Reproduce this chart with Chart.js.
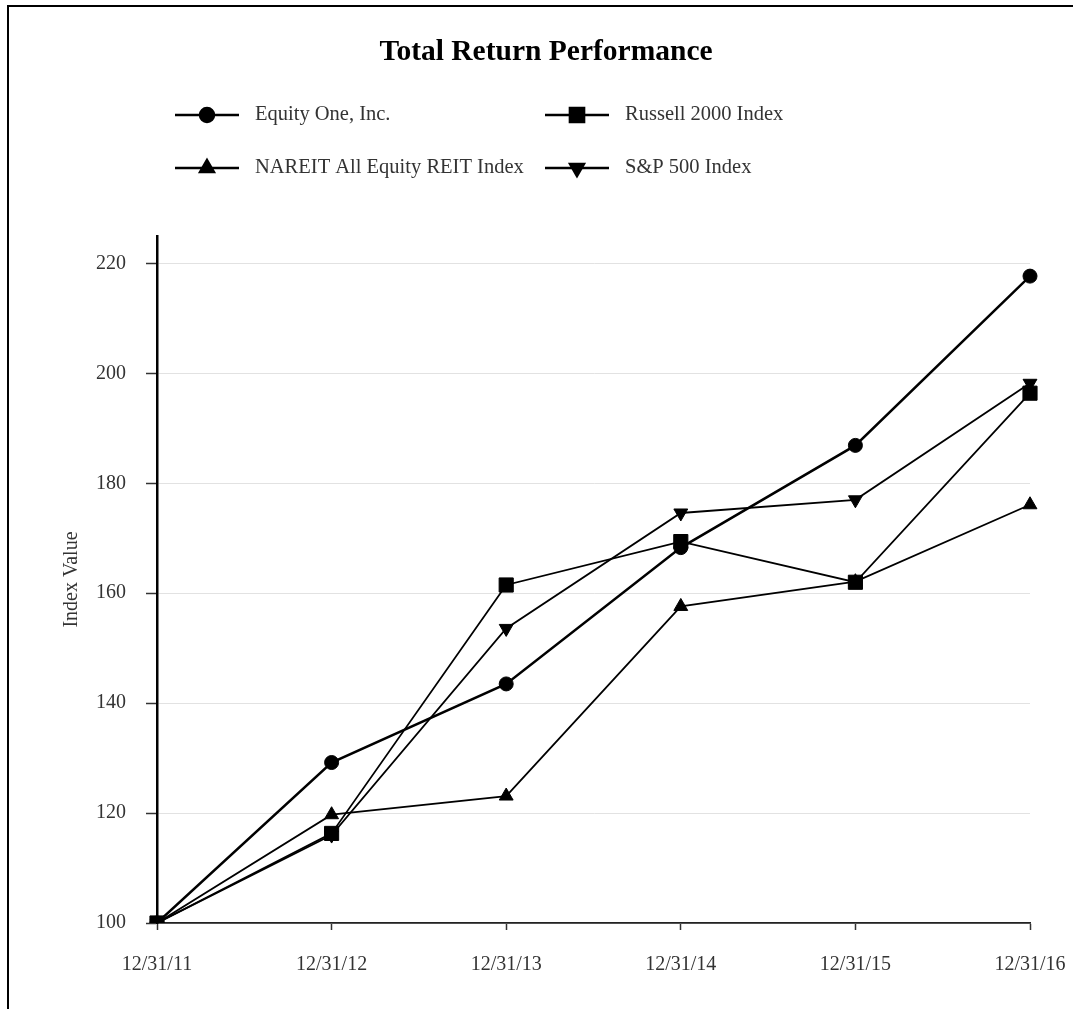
<!DOCTYPE html>
<html>
<head>
<meta charset="utf-8">
<title>Total Return Performance</title>
<script src="https://cdn.jsdelivr.net/npm/chart.js@4.4.0/dist/chart.umd.min.js"></script>
<style>
  html, body { margin: 0; padding: 0; background: #fff; overflow: hidden; }
  #wrap { position: relative; width: 1073px; height: 1009px; }
</style>
</head>
<body>
<div id="wrap"><canvas id="chart"></canvas></div>
<script>
// DATA
const categories = ['12/31/11', '12/31/12', '12/31/13', '12/31/14', '12/31/15', '12/31/16'];
const seriesNames = ['Equity One, Inc.', 'Russell 2000 Index', 'NAREIT All Equity REIT Index', 'S&P 500 Index'];
const equityOne = [100, 129.2, 143.5, 168.3, 186.9, 217.7];
const russell2000 = [100, 116.3, 161.5, 169.4, 162.0, 196.4];
const nareit = [100, 119.7, 123.1, 157.6, 162.1, 176.1];
const sp500 = [100, 116.0, 153.6, 174.6, 177.0, 198.2];
const chartTitle = 'Total Return Performance';

const serif = '"Liberation Serif", "Times New Roman", serif';

function series(label, data, style, radius, rotation, width) {
  return {
    label: label,
    data: data,
    borderColor: '#000',
    backgroundColor: '#000',
    borderWidth: width,
    pointStyle: style,
    pointRadius: radius,
    pointHoverRadius: radius,
    pointRotation: rotation,
    pointBackgroundColor: '#000',
    pointBorderColor: '#000',
    pointBorderWidth: 1,
    tension: 0
  };
}

// frame lines at top and left of the picture
const framePlugin = {
  id: 'frame',
  beforeDraw(chart) {
    const ctx = chart.ctx;
    ctx.save();
    ctx.fillStyle = '#000';
    ctx.fillRect(7, 5, chart.width - 7, 2);
    ctx.fillRect(7, 5, 2, chart.height - 5);
    ctx.restore();
  }
};

// title + two-column legend like the original
const headerPlugin = {
  id: 'header',
  afterDraw(chart) {
    const ctx = chart.ctx;
    ctx.save();
    ctx.fillStyle = '#000';
    ctx.font = 'bold 29.5px ' + serif;
    ctx.textAlign = 'center';
    ctx.textBaseline = 'middle';
    ctx.fillText(chartTitle, 546, 52);

    const cols = [175, 545];
    const rows = [115, 168];
    chart.data.datasets.forEach((ds, i) => {
      const x = cols[i % 2];
      const y = rows[Math.floor(i / 2)];
      ctx.strokeStyle = '#000';
      ctx.lineWidth = 2.5;
      ctx.beginPath();
      ctx.moveTo(x, y);
      ctx.lineTo(x + 64, y);
      ctx.stroke();
      ctx.fillStyle = '#000';
      Chart.helpers.drawPoint(ctx, {
        pointStyle: ds.pointStyle,
        radius: ds.pointRadius,
        rotation: ds.pointRotation,
        borderWidth: 1
      }, x + 32, y);
      ctx.fillStyle = '#333';
      ctx.font = '20.5px ' + serif;
      ctx.textBaseline = 'middle';
      ctx.textAlign = 'left';
      ctx.fillText(ds.label, x + 80, y);
    });
    ctx.restore();
  }
};

const ctx = document.getElementById('chart').getContext('2d');
new Chart(ctx, {
  type: 'line',
  data: {
    labels: categories,
    datasets: [
      series(seriesNames[0], equityOne, 'circle', 7, 0, 2.5),
      series(seriesNames[1], russell2000, 'rect', 10, 0, 1.8),
      series(seriesNames[2], nareit, 'triangle', 8, 0, 1.8),
      series(seriesNames[3], sp500, 'triangle', 8, 180, 1.8)
    ]
  },
  options: {
    responsive: true,
    maintainAspectRatio: false,
    animation: false,
    layout: { padding: { left: 0, right: 43, top: 236, bottom: 0 } },
    plugins: {
      legend: { display: false },
      tooltip: { enabled: false },
      title: { display: false }
    },
    scales: {
      x: {
        offset: false,
        grid: { drawOnChartArea: false, drawTicks: true, tickLength: 7, tickColor: '#333', tickWidth: 1.5 },
        border: { color: '#222', width: 1.8 },
        ticks: { color: '#333', font: { family: serif, size: 20 }, padding: 23, maxRotation: 0, autoSkip: false },
        afterFit(scale) {
          scale.height = 86;
          scale.paddingLeft = 0;
          scale.paddingRight = 0;
        }
      },
      y: {
        min: 100,
        max: 225,
        grid: { color: '#e2e2e2', lineWidth: 1, tickLength: 11, tickColor: '#333', tickWidth: 1.5 },
        border: { color: '#000', width: 2.5 },
        ticks: { stepSize: 20, includeBounds: false, color: '#333', font: { family: serif, size: 20 }, padding: 20 },
        title: {
          display: true,
          text: 'Index Value',
          color: '#333',
          font: { family: serif, size: 20 },
          padding: { top: 60, bottom: 0 }
        },
        afterFit(scale) { scale.width = 157; }
      }
    }
  },
  plugins: [framePlugin, headerPlugin]
});
</script>
</body>
</html>
